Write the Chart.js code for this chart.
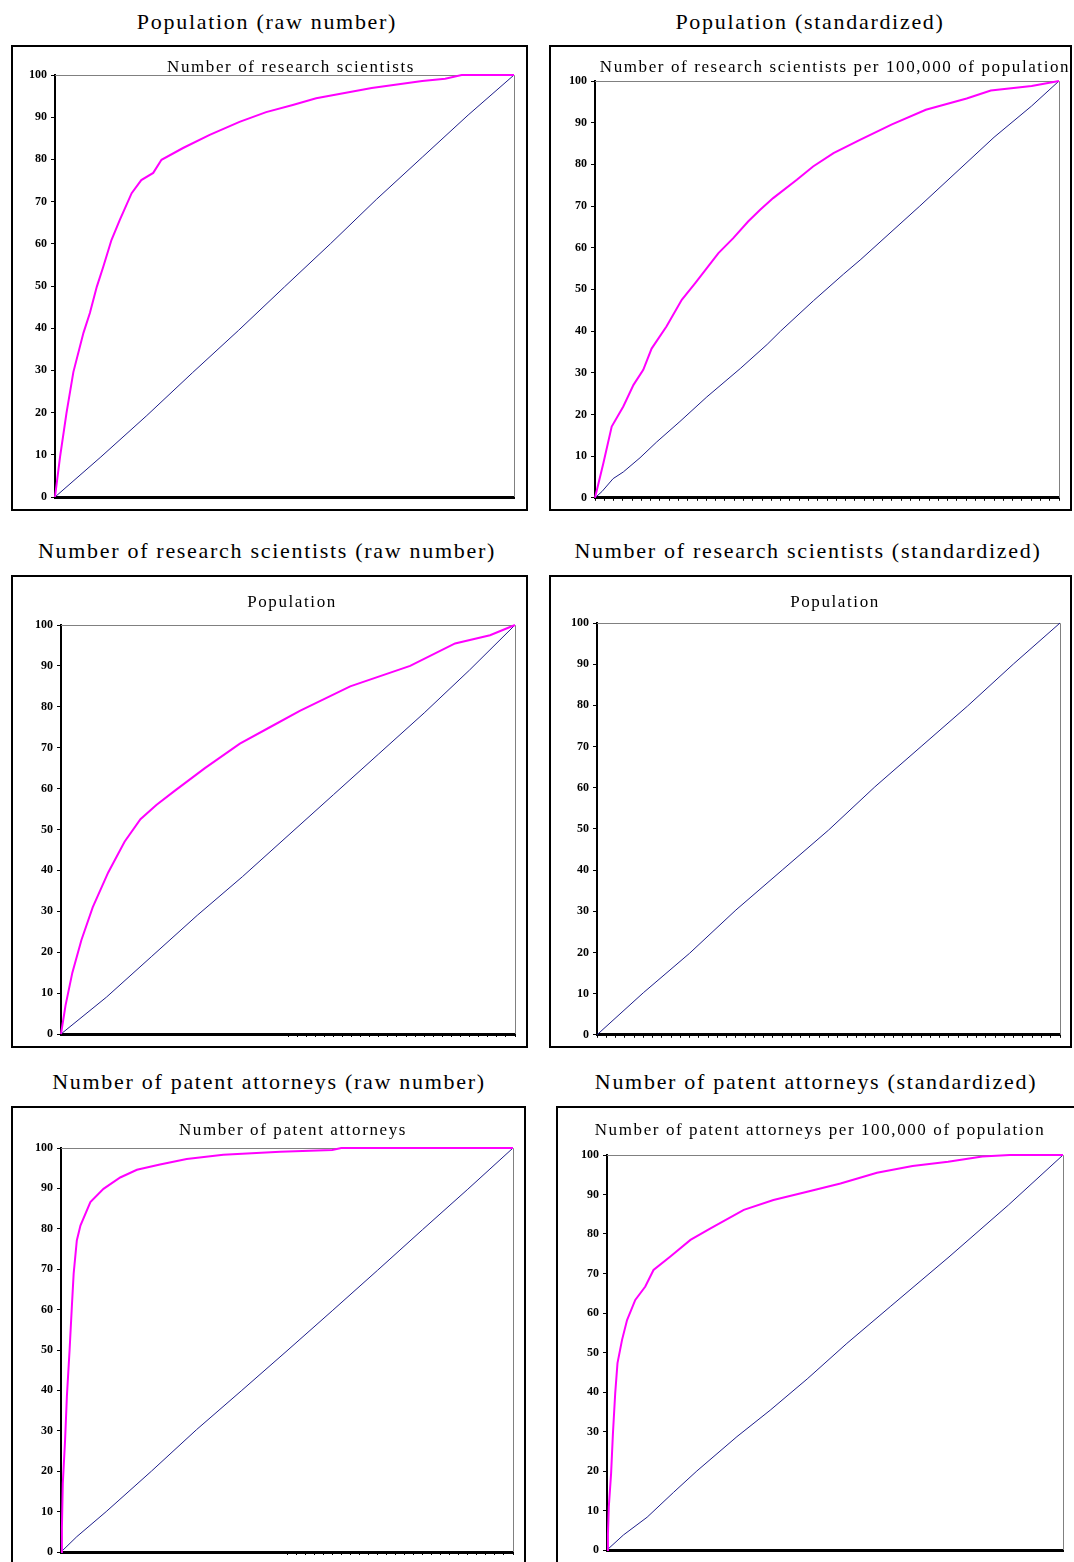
<!DOCTYPE html>
<html>
<head>
<meta charset="utf-8">
<script src="https://cdn.jsdelivr.net/npm/chart.js@4/dist/chart.umd.min.js"></script>
<style>
html,body{margin:0;padding:0;background:#fff;overflow:hidden;}
body{width:1074px;height:1562px;position:relative;font-family:"Liberation Serif","Times New Roman",serif;}
.box{position:absolute;border:2px solid #000;box-sizing:border-box;}
.box canvas{position:absolute;left:0;top:0;}
.ttl{position:absolute;white-space:nowrap;transform:translateX(-50%);font-size:22px;letter-spacing:1.7px;line-height:26px;color:#000;}
.sub{position:absolute;white-space:nowrap;transform:translateX(-50%);font-size:17px;letter-spacing:1.6px;line-height:20px;color:#000;}
</style>
</head>
<body>
<script>
// cumulative share (%) of the first series (magenta) against the second (blue)
const p1PinkX = [0,1.1,2.5,4,6.2,7.6,9.1,10.5,12.3,14.1,16.7,18.8,21.4,23.2,27.9,33.7,40.2,46,51.8,56.9,69,80,85,88.6,100];
const p1PinkY = [0,9.5,19.9,29.6,38.9,43.6,49.8,54.5,60.9,65.6,72,75.1,76.8,79.9,82.7,85.8,88.9,91.2,92.9,94.5,96.9,98.6,99.1,100,100];
const p1BlueX = [0,10,20,30,40,50,60,70,80,90,100];
const p1BlueY = [0,9.5,19.3,29.5,39.5,49.8,60,70.5,80.5,90.5,100];

const p2PinkX = [0,1.8,3.6,6.1,8.3,10.4,12.2,15.4,18.7,21.6,24.1,26.6,29.8,33,35.6,38.4,43.5,47,51.4,57.1,64,71.3,80.1,85.3,94.1,100];
const p2PinkY = [0,8.3,17.1,21.9,27.1,30.7,35.8,41.1,47.5,51.5,55.1,58.7,62.3,66.3,69.1,71.9,76.3,79.5,82.7,85.9,89.6,93.1,95.8,97.7,98.8,100];
const p2BlueX = [0,1.5,3.9,6.1,9.7,13.3,18.3,24.1,31.3,37.1,40,47.1,53.6,57.3,70,86,94.1,100];
const p2BlueY = [0,1.5,4.6,6.2,9.6,13.4,18.3,24.2,31,36.8,40,47.3,53.7,57.2,70,86.5,94,100];

const p3PinkX = [0,1,2.5,4.5,7,10.4,14,17.5,21,25.1,31.7,39.4,46,52.6,63.7,76.9,86.8,94.5,100];
const p3PinkY = [0,7,15,23,31,39.5,47,52.5,56,59.5,65,71,75,79,85,90,95.5,97.5,100];
const p3BlueX = [0,10,20,30,40,50,60,70,80,90,100];
const p3BlueY = [0,9,19,29,38.5,48.5,58.5,68.5,78.5,89,100];

const p4BlueX = [0,10,20,30,40,50,60,70,80,90,100];
const p4BlueY = [0,10.2,19.8,30.3,40,49.7,60.2,70,79.8,90.1,100];

const p5PinkX = [0,0.2,0.4,0.9,1.3,1.9,2.4,2.8,3.5,4.3,6.5,9.4,13.1,16.8,21.9,27.8,35.9,48.5,60,62,100];
const p5PinkY = [0,6,17,27.6,38.5,50,60.7,68.9,77.1,80.8,86.6,89.9,92.7,94.6,95.9,97.3,98.3,99.1,99.5,100,100];
const p5BlueX = [0,3.5,10,20,30,40,50,60,70,80,90,100];
const p5BlueY = [0,3.8,10,20,30.3,40,49.8,59.7,69.7,79.8,89.8,100];

const p6PinkX = [0,0.2,0.4,0.9,1.3,1.8,2.3,3.3,4.4,6.2,8.4,10.2,13.9,18.3,22.7,30,36.5,43.9,51.2,59.2,67,74.8,82.3,88.3,100];
const p6PinkY = [0,4,11,19.4,29.5,39.7,47.3,53.2,58.2,63.3,66.7,70.9,74.3,78.5,81.4,86.1,88.6,90.7,92.8,95.5,97.2,98.3,99.6,100,100];
const p6BlueX = [0,3.6,8.8,14.6,19.7,28.5,35.8,43.9,52.6,62.1,75,88,100];
const p6BlueY = [0,3.8,8.3,14.6,20,28.7,35.4,43.3,52.3,61.6,74.2,87.3,100];

const titles = ['Population (raw number)','Population (standardized)',
  'Number of research scientists (raw number)','Number of research scientists (standardized)',
  'Number of patent attorneys (raw number)','Number of patent attorneys (standardized)'];
const subTitles = ['Number of research scientists','Number of research scientists per 100,000 of population',
  'Population','Population',
  'Number of patent attorneys','Number of patent attorneys per 100,000 of population'];

// box: left, top, width, height   area: y-axis width, top, right, bottom (inside the box)
const panels = [
  {box:[11,45,517,466], area:[42,28,12,12], tx:267, ty:9, sx:291, sy:57, pink:[p1PinkX,p1PinkY], blue:[p1BlueX,p1BlueY], tickFrom:null},
  {box:[549,45,523,466], area:[44,34,11,11], tx:810, ty:9, sx:835, sy:57, pink:[p2PinkX,p2PinkY], blue:[p2BlueX,p2BlueY], tickFrom:0},
  {box:[11,575,517,473], area:[48,48,11,12], tx:267, ty:538, sx:292, sy:592, pink:[p3PinkX,p3PinkY], blue:[p3BlueX,p3BlueY], tickFrom:50},
  {box:[549,575,523,473], area:[46,46,10,11], tx:808, ty:538, sx:835, sy:592, pink:null, blue:[p4BlueX,p4BlueY], tickFrom:0},
  {box:[11,1106,515,480], area:[48,40,11,32], tx:269, ty:1069, sx:293, sy:1120, pink:[p5PinkX,p5PinkY], blue:[p5BlueX,p5BlueY], tickFrom:50},
  {box:[556,1106,522,480], area:[49,47,13,34], tx:816, ty:1069, sx:820, sy:1120, pink:[p6PinkX,p6PinkY], blue:[p6BlueX,p6BlueY], tickFrom:null}
];

function toPts(xs, ys){
  return xs.map((x, i) => ({x: x, y: ys[i]}));
}

// grey top and right edge of the plot area
const frame = {
  id: 'frame',
  beforeDatasetsDraw(chart){
    const {ctx, chartArea: a} = chart;
    ctx.save();
    ctx.strokeStyle = '#808080';
    ctx.lineWidth = 1;
    ctx.beginPath();
    ctx.moveTo(a.left, a.top + 0.5);
    ctx.lineTo(a.right + 0.5, a.top + 0.5);
    ctx.lineTo(a.right + 0.5, a.bottom);
    ctx.stroke();
    ctx.restore();
  }
};

panels.forEach((p, i) => {
  const t = document.createElement('div');
  t.className = 'ttl';
  t.style.left = p.tx + 'px';
  t.style.top = p.ty + 'px';
  t.textContent = titles[i];
  document.body.appendChild(t);

  const box = document.createElement('div');
  box.className = 'box';
  box.style.left = p.box[0] + 'px';
  box.style.top = p.box[1] + 'px';
  box.style.width = p.box[2] + 'px';
  box.style.height = p.box[3] + 'px';
  const canvas = document.createElement('canvas');
  canvas.width = p.box[2] - 4;
  canvas.height = p.box[3] - 4;
  box.appendChild(canvas);
  document.body.appendChild(box);

  const s = document.createElement('div');
  s.className = 'sub';
  s.style.left = p.sx + 'px';
  s.style.top = p.sy + 'px';
  s.textContent = subTitles[i];
  document.body.appendChild(s);

  const datasets = [];
  if(p.pink){
    datasets.push({data: toPts(p.pink[0], p.pink[1]), borderColor: '#ff00ff', borderWidth: 2, pointRadius: 0, clip: false});
  }
  datasets.push({data: toPts(p.blue[0], p.blue[1]), borderColor: '#1c1c8a', borderWidth: 1, pointRadius: 0, clip: false});

  new Chart(canvas.getContext('2d'), {
    type: 'line',
    data: {datasets: datasets},
    options: {
      responsive: false,
      animation: false,
      events: [],
      layout: {padding: {left: 0, top: p.area[1], right: p.area[2], bottom: p.area[3]}},
      plugins: {legend: {display: false}, tooltip: {enabled: false}},
      scales: {
        x: {
          type: 'linear', min: 0, max: 100,
          ticks: {display: false},
          grid: {
            drawOnChartArea: false, tickLength: 3,
            color: c => (p.tickFrom !== null && c.tick && c.tick.value >= p.tickFrom) ? '#000' : 'rgba(0,0,0,0)'
          },
          border: {color: '#000', width: 3},
          afterBuildTicks: sc => {
            const list = [];
            for(let v = 0; v <= 100; v += 2) list.push({value: v});
            sc.ticks = list;
          },
          afterFit: sc => { sc.height = 0; }
        },
        y: {
          min: 0, max: 100,
          ticks: {stepSize: 10, color: '#000', padding: 4, font: {family: 'Liberation Serif', size: 12, weight: 'bold'}},
          grid: {drawOnChartArea: false, tickLength: 4, color: '#000'},
          border: {color: '#000', width: 2},
          afterFit: sc => { sc.width = p.area[0]; }
        }
      }
    },
    plugins: [frame]
  });
});
</script>
</body>
</html>
